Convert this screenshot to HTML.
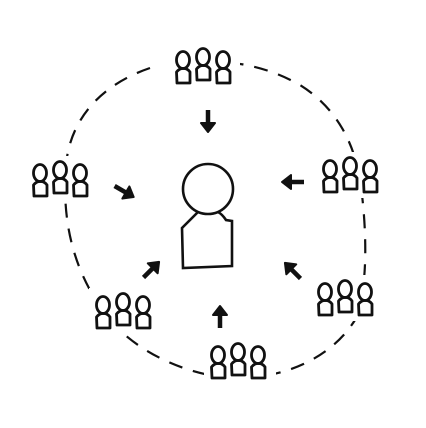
<!DOCTYPE html>
<html><head><style>html,body{margin:0;padding:0;background:#fff}svg{display:block}</style></head>
<body>
<svg width="426" height="428" viewBox="0 0 426 428" xmlns="http://www.w3.org/2000/svg">
<defs>
<g id="p" fill="none" stroke="#111" stroke-width="2.8" stroke-linejoin="round">
<ellipse cx="0" cy="0" rx="6.5" ry="8.5"/>
<path d="M-6,23 L-6.5,12 Q-3,8 0,8.5 Q4,8 7,12 L7,23 Z"/>
</g>
<g id="g"><use href="#p" x="0" y="3"/><use href="#p" x="20" y="0"/><use href="#p" x="40" y="3"/></g>
<g id="a"><path d="M0,-12 L0,3" stroke="#111" stroke-width="4.5"/><path d="M-7,1 L7,1 L0,10 Z" fill="#111" stroke="#111" stroke-width="2" stroke-linejoin="round"/></g>
</defs>
<rect width="426" height="428" fill="#fff"/>
<path d="M150,68 C100,85 70,120 66,165 C62,215 70,270 110,320 C140,355 190,375 230,378 C280,380 330,360 355,320 C370,285 365,220 362,195 C358,150 340,110 300,85 C270,68 240,62 215,62" fill="none" stroke="#111" stroke-width="2.2" stroke-dasharray="14 11"/>
<g fill="#fff">
<rect x="168" y="44" width="72" height="44"/>
<rect x="26" y="156" width="72" height="44"/>
<rect x="316" y="152" width="72" height="46"/>
<rect x="89" y="288" width="72" height="46"/>
<rect x="204" y="338" width="72" height="46"/>
<rect x="311" y="275" width="72" height="46"/>
</g>
<use href="#g" x="183" y="57"/>
<use href="#g" x="40" y="170"/>
<use href="#g" x="330" y="166"/>
<use href="#g" x="103" y="302"/>
<use href="#g" x="218" y="352"/>
<use href="#g" x="325" y="289"/>
<g fill="none" stroke="#111" stroke-width="2.6">
<circle cx="208" cy="189" r="25"/>
<path d="M198,212 Q188,222 182,228 L183,268 L232,266 L232,221 L226,220 Q222,214 218,212"/>
</g>
<use href="#a" transform="translate(208,122)"/>
<use href="#a" transform="translate(125,192) rotate(-60)"/>
<use href="#a" transform="translate(292,182) rotate(90)"/>
<use href="#a" transform="translate(152,269) rotate(-135)"/>
<use href="#a" transform="translate(220,316) rotate(180)"/>
<use href="#a" transform="translate(292,270) rotate(135)"/>
</svg>
</body></html>
